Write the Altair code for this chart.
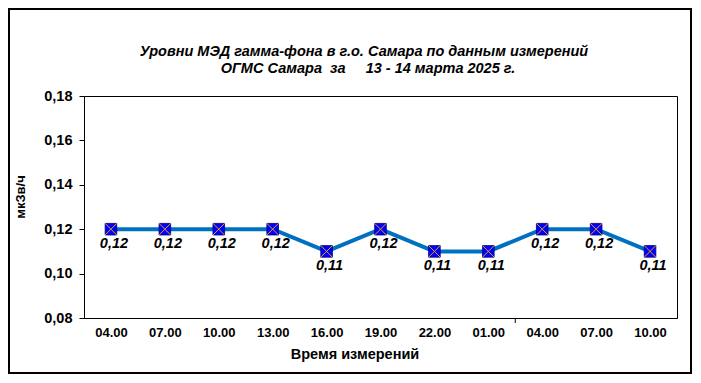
import json
import altair as alt
import pandas as pd

times = ["04.00", "07.00", "10.00", "13.00", "16.00", "19.00", "22.00", "01.00", "04.00", "07.00", "10.00"]
values = [0.12, 0.12, 0.12, 0.12, 0.11, 0.12, 0.11, 0.11, 0.12, 0.12, 0.11]
y_ticks = [0.08, 0.10, 0.12, 0.14, 0.16, 0.18]
title_lines = ["Уровни МЭД гамма-фона в г.о. Самара по данным измерений",
               "ОГМС Самара\u00a0 за\u00a0\u00a0\u00a0\u00a0 13 - 14 марта 2025 г."]
y_title = "мкЗв/ч"
x_title = "Время измерений"

df = pd.DataFrame({
    "idx": list(range(len(times))),
    "value": values,
    "label": [f"{v:.2f}".replace(".", ",") for v in values],
})

W, H = 593, 222
FONT = "Liberation Sans"

label_expr = json.dumps(times) + "[datum.value]"

x_enc = alt.X("idx:O", scale=alt.Scale(type="point", padding=0.5),
              axis=alt.Axis(title=None, labelExpr=label_expr, labelAngle=0,
                            ticks=False, labelPadding=8, labelFont=FONT,
                            labelFontSize=13, labelFontWeight="bold", labelColor="#000",
                            domainColor="#000", grid=False))
y_enc = alt.Y("value:Q", scale=alt.Scale(domain=[0.08, 0.18], nice=False, zero=False),
              axis=alt.Axis(title=None, values=y_ticks,
                            labelExpr="replace(format(datum.value, '.2f'), '.', ',')",
                            labelFont=FONT, labelFontSize=14.5, labelFontWeight="bold",
                            labelColor="#000", tickColor="#000", tickSize=5,
                            labelPadding=7, domainColor="#000", grid=False))

base = alt.Chart(df)

line = base.mark_line(color="#0070C0", strokeWidth=4).encode(x=x_enc, y=y_enc)
squares = base.mark_point(shape="square", filled=True, size=135, color="#0000FF",
                          stroke="#00007F", strokeWidth=0.8, opacity=1).encode(x="idx:O", y="value:Q")
crosses = base.mark_point(shape="M-1,-1L1,1M-1,1L1,-1", filled=False, size=135,
                          color="#E8A200", strokeWidth=1, opacity=1).encode(x="idx:O", y="value:Q")
labels = base.mark_text(font=FONT, fontSize=14.5, fontWeight="bold", fontStyle="italic",
                        color="#000", dy=15, dx=3).encode(x="idx:O", y="value:Q", text="label:N")

one = alt.Data(values=[{"a": 1}])

def txt(text, x, y, size=13, italic=False, angle=0):
    kw = dict(font=FONT, fontSize=size, fontWeight="bold", color="#000",
              align="center", baseline="middle")
    if italic:
        kw["fontStyle"] = "italic"
    if angle:
        kw["angle"] = angle
    return alt.Chart(one).mark_text(**kw).encode(
        x=alt.value(x), y=alt.value(y), text=alt.value(text))

title1 = txt(title_lines[0], 280, -44, size=14.5, italic=True)
title2 = txt(title_lines[1], 284, -27, size=14.5, italic=True)
ytitle = txt(y_title, -63, 101, size=13, angle=270)
xtitle = txt(x_title, 271, 259, size=14.5)

tick = alt.Chart(one).mark_rule(color="#000", strokeWidth=1).encode(
    x=alt.value(8 * W / 11), y=alt.value(H), y2=alt.value(H + 5))

border = alt.Chart(one).mark_rect(fill=None, stroke="#000", strokeWidth=2).encode(
    x=alt.value(-75), x2=alt.value(W + 14), y=alt.value(-87), y2=alt.value(H + 55))

chart = alt.layer(border, line, squares, crosses, labels, title1, title2, ytitle, xtitle, tick).properties(
    width=W, height=H,
    autosize=alt.AutoSizeParams(type="none"),
    padding={"left": 76, "top": 88, "right": 16, "bottom": 57},
    background="white",
).configure_view(stroke="#000", strokeWidth=1)

chart.save("out.html", embed_options={"renderer": "svg", "actions": False})
